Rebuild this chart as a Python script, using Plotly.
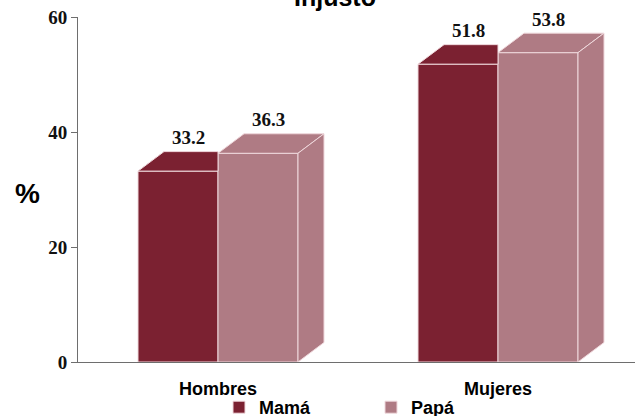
import plotly.graph_objects as go

# ---- data ----
categories = ["Hombres", "Mujeres"]
series_names = ["Mamá", "Papá"]
mama = [33.2, 51.8]
papa = [36.3, 53.8]
y_ticks = [0, 20, 40, 60]
title_text = "Injusto"
y_label = "%"

# ---- layout geometry ----
W, H = 635, 416
ml, mr, mt, mb = 78, 0, 17, 416 - 362
pw, ph = W - ml - mr, H - mt - mb
xr = [-0.5, -0.5 + pw / 280.0]
yr = [0, 60]
ux = pw / (xr[1] - xr[0])
uy = ph / (yr[1] - yr[0])
ddx = 26 / ux          # depth offset in x data units
ddy = 19.5 / uy        # depth offset in y data units
bw = 80 / ux           # bar width in x data units


def paper_x(px):
    return (px - ml) / pw


def paper_y(py):
    return 1 - (py - mt) / ph


colors = ["#7B2131", "#AF7B84"]
edge = "#EFD8DC"
xs = list(range(len(categories)))

fig = go.Figure()

# front faces (bars)
fig.add_trace(go.Bar(x=xs, y=mama, width=bw, offset=-bw, name=series_names[0],
                     marker=dict(color=colors[0], line=dict(color=edge, width=1)),
                     hoverinfo="skip"))
fig.add_trace(go.Bar(x=xs, y=papa, width=bw, offset=0, name=series_names[1],
                     marker=dict(color=colors[1], line=dict(color=edge, width=1)),
                     hoverinfo="skip"))


def poly(px, py, color):
    fig.add_trace(go.Scatter(x=px + [px[0]], y=py + [py[0]], mode="lines", fill="toself",
                             fillcolor=color, line=dict(color=edge, width=1),
                             showlegend=False, hoverinfo="skip"))


# Mamá top faces (clipped at Papá front)
for i, v in zip(xs, mama):
    x0, x1 = i - bw, i
    poly([x0, x1, x1, x0 + ddx], [v, v, v + ddy, v + ddy], colors[0])

# Papá top and side faces
for i, v in zip(xs, papa):
    x0, x1 = i, i + bw
    poly([x0, x1, x1 + ddx, x0 + ddx], [v, v, v + ddy, v + ddy], colors[1])
    poly([x1, x1 + ddx, x1 + ddx, x1], [0, ddy, v + ddy, v], colors[1])

annotations = []
serif = dict(family="Liberation Serif", size=19, color="#111111", weight="bold")
for vals, off in ((mama, -bw / 2), (papa, bw / 2)):
    for i, v in zip(xs, vals):
        annotations.append(dict(x=i + off + ddx * 0.4, y=v + ddy, yshift=14,
                                text=f"{v:.1f}", showarrow=False, font=serif,
                                xanchor="center", yanchor="middle"))

annotations.append(dict(x=paper_x(335), y=paper_y(-3.5), xref="paper", yref="paper",
                        text=title_text, showarrow=False, xanchor="center", yanchor="middle",
                        font=dict(family="Liberation Sans", size=25, color="#000", weight="bold")))
annotations.append(dict(x=paper_x(27.5), y=paper_y(193.5), xref="paper", yref="paper",
                        text=y_label, showarrow=False, xanchor="center", yanchor="middle",
                        font=dict(family="Liberation Sans", size=28, color="#000", weight="bold")))

fig.update_layout(
    width=W, height=H,
    margin=dict(l=ml, r=mr, t=mt, b=mb, autoexpand=False),
    paper_bgcolor="white", plot_bgcolor="white",
    barmode="overlay",
    showlegend=True,
    legend=dict(orientation="h", x=paper_x(219), y=paper_y(407.5), xanchor="left", yanchor="middle",
                font=dict(family="Liberation Sans", size=18, color="#000", weight="bold"),
                entrywidth=107, entrywidthmode="pixels", bgcolor="rgba(0,0,0,0)"),
    annotations=annotations,
    xaxis=dict(range=xr, tickvals=xs, ticktext=categories, showgrid=False, zeroline=False,
               showline=True, linecolor="#6E6E6E", linewidth=1, ticks="",
               ticklabelstandoff=10, automargin=False, ticklabeloverflow="allow",
               tickfont=dict(family="Liberation Sans", size=18, color="#000", weight="bold")),
    yaxis=dict(range=yr, tickvals=y_ticks, showgrid=False, zeroline=False, automargin=False,
               showline=True, linecolor="#6E6E6E", linewidth=1, ticks="outside", ticklen=6,
               tickcolor="#6E6E6E", ticklabeloverflow="allow",
               tickfont=dict(family="Liberation Serif", size=19, color="#111", weight="bold")),
)

fig.write_html("out.html", config={"displayModeBar": False},
               post_script="document.body.style.margin='0';document.body.style.overflow='hidden';")
